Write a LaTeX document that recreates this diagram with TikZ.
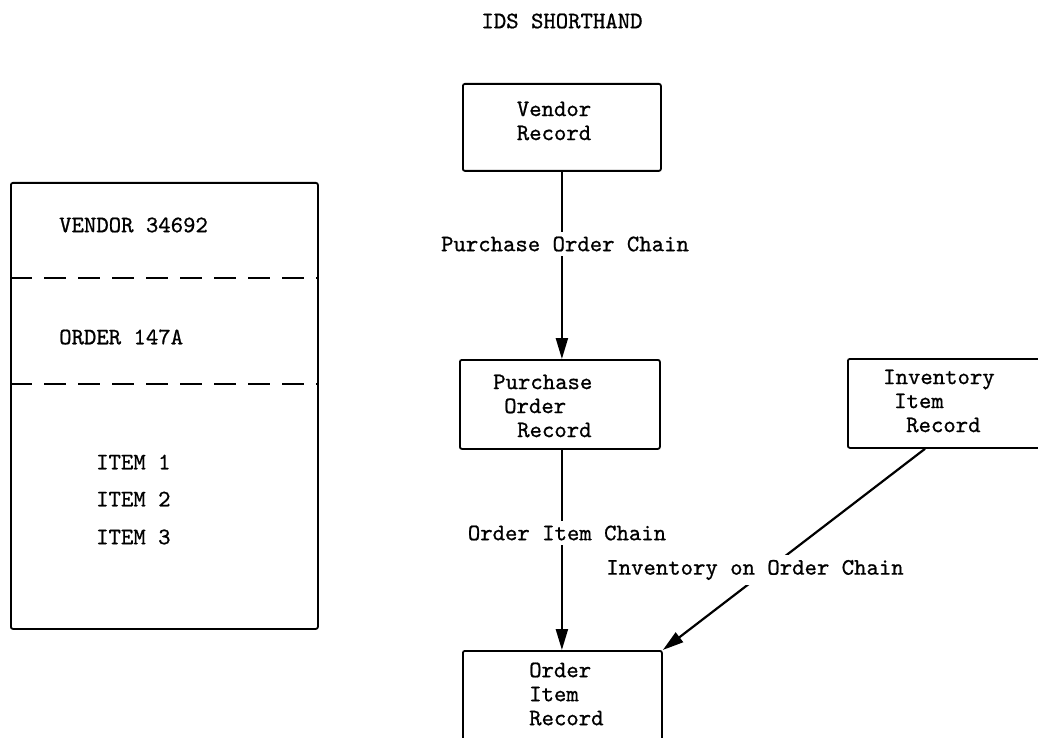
\documentclass[tikz,border=0pt]{standalone}
\usepackage{fontspec}
\setmonofont{lmmono10-regular.otf}[FakeBold=0.8]
\usetikzlibrary{arrows.meta}
\begin{document}
\begin{tikzpicture}[x=1pt,y=-1pt,
  font=\ttfamily\fontsize{23.6}{24}\selectfont,
  box/.style={draw, line width=1.8pt, rounded corners=2pt, inner sep=0pt, anchor=north west},
  txt/.style={inner sep=0pt, align=left, anchor=west},
  lab/.style={fill=white, inner sep=5pt},
  conn/.style={line width=2.2pt, -{Triangle[length=21pt,width=12pt]}},
  dashln/.style={line width=1.8pt, dash pattern=on 22pt off 12pt}]
\useasboundingbox (0,0) rectangle (1038,738);
\fill[white] (0,0) rectangle (1038,738);

% title
\node[inner sep=0pt] (title) at (562,21) {IDS SHORTHAND};

% left record box
\node[box, minimum width=307pt, minimum height=446pt] (lbox) at (10,182) {};
\coordinate (d1) at (0,278);
\coordinate (d2) at (0,384);
\draw[dashln] (lbox.west |- d1) -- (lbox.east |- d1);
\draw[dashln] (lbox.west |- d2) -- (lbox.east |- d2);
\node[txt] (vend) at (59,225) {VENDOR 34692};
\node[txt] (ord) at (59,337) {ORDER 147A};
\node[txt] (it1) at (96,462) {ITEM 1};
\node[txt] (it2) at (96,499) {ITEM 2};
\node[txt] (it3) at (96,537) {ITEM 3};

% IDS shorthand boxes
\node[box, minimum width=198pt, minimum height=87pt] (vbox) at (462,83) {};
\node[inner sep=0pt, align=center] (vtext) at (554,121) {Vendor\\Record};

\node[box, minimum width=200pt, minimum height=89pt] (pbox) at (459,359) {};
\node[txt] (ptext) at (493,406) {Purchase\\\hspace*{11pt}Order\\\hspace*{24pt}Record};

\node[box, minimum width=200pt, minimum height=89pt] (ibox) at (847,358) {};
\node[txt] (itext) at (883,401) {Inventory\\\hspace*{11pt}Item\\\hspace*{23pt}Record};

\node[box, minimum width=199pt, minimum height=120pt] (obox) at (462,650) {};
\node[txt] (otext) at (529,694) {Order\\Item\\Record};

% connectors
\draw[conn] (vbox.south) -- (vbox.south |- pbox.north);
\draw[conn] (pbox.south -| vbox.south) -- (obox.north -| vbox.south);
\draw[conn] ([xshift=78pt]ibox.south west) -- (obox.north east);

% chain labels
\node[lab] (l1) at (565,244) {Purchase Order Chain};
\node[lab] (l2) at (567,533) {Order Item Chain};
\node[lab] (l3) at (755,570) {Inventory on Order Chain};
\end{tikzpicture}
\end{document}
